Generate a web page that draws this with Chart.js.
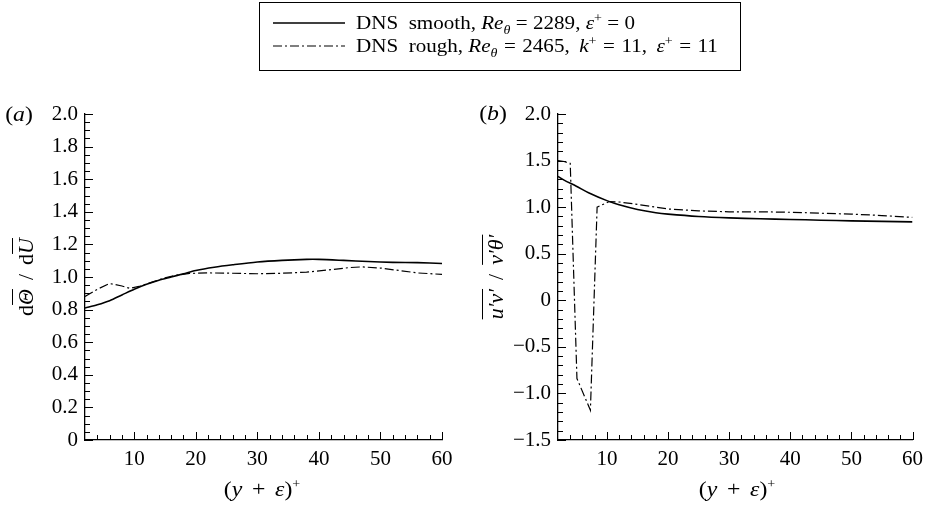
<!DOCTYPE html>
<html>
<head>
<meta charset="utf-8">
<script src="https://cdn.jsdelivr.net/npm/chart.js@4.4.1/dist/chart.umd.min.js"></script>
<style>
  body { margin: 0; background: #fff; font-family: 'Liberation Serif', serif; color: #000; }
  #page { position: relative; width: 930px; height: 506px; overflow: hidden; }
  canvas { position: absolute; top: 0; }
  .lbl { position: absolute; font-size: 22px; white-space: nowrap; line-height: 1; }
  .rot { transform: translate(-50%, -50%) rotate(-90deg); }
  .ctr { transform: translate(-50%, -50%) scaleX(1.08); }
  i { font-style: italic; }
  .ov { text-decoration: overline; text-decoration-thickness: 1px; }
  .sp { display: inline-block; width: 9px; }
  .sm { font-size: 13px; position: relative; }
  #legend { position: absolute; left: 259px; top: 2px; width: 480px; height: 67px; border: 1.3px solid #000; font-size: 19.5px; }
  .row { position: absolute; left: 13px; height: 24px; display: flex; align-items: center; white-space: nowrap; line-height: 1; }
  .row svg { margin-right: 11px; }
  .txt { display: inline-block; transform: scaleX(1.08); transform-origin: left center; }
  .eq { margin: 0 5px; }
  .r2 .eq { margin: 0 6px; }
  .cm { margin-right: 4px; }
</style>
</head>
<body>
<div id="page">
  <canvas id="chartA" width="465" height="506" style="left:0"></canvas>
  <canvas id="chartB" width="465" height="506" style="left:465px"></canvas>

  <div id="legend">
    <div class="row" style="top:8px">
      <svg width="72" height="4"><line x1="0" y1="2" x2="72" y2="2" stroke="#000" stroke-width="1.6"/></svg>
      <span class="txt">DNS&nbsp;&nbsp;smooth, <i>Re</i><i class="sm" style="top:5px">θ</i><span class="eq">=</span>2289, <i>ε</i><span class="sm" style="top:-7px">+</span><span class="eq">=</span>0</span>
    </div>
    <div class="row r2" style="top:31px">
      <svg width="72" height="4"><line x1="0" y1="2" x2="72" y2="2" stroke="#000" stroke-width="1.2" stroke-dasharray="9 3 2 3"/></svg>
      <span class="txt">DNS&nbsp;&nbsp;rough, <i>Re</i><i class="sm" style="top:5px">θ</i><span class="eq">=</span>2465,<span class="cm"></span> <i>k</i><span class="sm" style="top:-7px">+</span><span class="eq">=</span>11,<span class="cm"></span> <i>ε</i><span class="sm" style="top:-7px">+</span><span class="eq">=</span>11</span>
    </div>
  </div>

  <div class="lbl ctr" style="left:19px; top:114px">(<i>a</i>)</div>
  <div class="lbl ctr" style="left:493px; top:113px">(<i>b</i>)</div>

  <div class="lbl rot" style="left:26px; top:277px">d<i class="ov">Θ</i><span class="sp"></span>/<span class="sp"></span>d<i class="ov">U</i></div>
  <div class="lbl rot" style="left:496px; top:277px"><i class="ov">u′v′</i><span class="sp"></span>/<span class="sp"></span><i class="ov">v′θ′</i></div>

  <div class="lbl ctr" style="left:262px; top:489px">(<i>y</i><span class="sp"></span>+<span class="sp"></span><i>ε</i>)<span class="sm" style="top:-8px">+</span></div>
  <div class="lbl ctr" style="left:737px; top:489px">(<i>y</i><span class="sp"></span>+<span class="sp"></span><i>ε</i>)<span class="sm" style="top:-8px">+</span></div>
</div>

<script>
// panel (a): dTheta/dU
const xSmoothA = [2, 4, 6, 8, 10, 12, 14, 16, 18, 20, 23, 26, 30, 34, 38, 40, 44, 48, 52, 56, 60];
const ySmoothA = [0.81, 0.83, 0.855, 0.89, 0.925, 0.955, 0.98, 1.0, 1.02, 1.04, 1.06, 1.075, 1.092, 1.102, 1.108, 1.108, 1.102, 1.095, 1.09, 1.088, 1.083];
const xRoughA = [2, 4, 6, 8, 9.3, 11, 13, 15, 17, 19, 22, 26, 30, 34, 38, 42, 45, 47, 50, 53, 56, 60];
const yRoughA = [0.88, 0.925, 0.96, 0.945, 0.93, 0.945, 0.97, 0.995, 1.012, 1.022, 1.025, 1.023, 1.02, 1.023, 1.03, 1.045, 1.058, 1.062, 1.055, 1.04, 1.025, 1.016];

// panel (b): u'v' / v'theta'
const xSmoothB = [2, 3, 5, 7, 10, 12, 15, 18, 20, 25, 30, 35, 40, 45, 50, 55, 60];
const ySmoothB = [1.33, 1.29, 1.225, 1.155, 1.07, 1.025, 0.975, 0.94, 0.925, 0.9, 0.885, 0.875, 0.868, 0.86, 0.853, 0.847, 0.842];
const xRoughB = [2, 3, 4, 5.1, 7.3, 8.4, 10.4, 12, 15, 20, 25, 30, 35, 40, 45, 50, 55, 60];
const yRoughB = [1.5, 1.49, 1.47, -0.84, -1.18, 1.0, 1.06, 1.055, 1.03, 0.98, 0.96, 0.95, 0.95, 0.945, 0.935, 0.925, 0.91, 0.89];

const xTicks = [10, 20, 30, 40, 50, 60];
const yTicksA = [0, 0.2, 0.4, 0.6, 0.8, 1.0, 1.2, 1.4, 1.6, 1.8, 2.0];
const yLabelsA = ['0', '0.2', '0.4', '0.6', '0.8', '1.0', '1.2', '1.4', '1.6', '1.8', '2.0'];
const yTicksB = [-1.5, -1.0, -0.5, 0, 0.5, 1.0, 1.5, 2.0];
const yLabelsB = ['\u22121.5', '\u22121.0', '\u22120.5', '0', '0.5', '1.0', '1.5', '2.0'];

const pts = (xs, ys) => xs.map((x, i) => ({ x: x, y: ys[i] }));

// inward ticks, major and minor
const innerTicks = {
  id: 'innerTicks',
  afterDraw(chart, args, opts) {
    const ctx = chart.ctx;
    const xs = chart.scales.x, ys = chart.scales.y;
    const a = chart.chartArea;
    ctx.save();
    ctx.strokeStyle = '#000';
    ctx.lineWidth = 1;
    ctx.beginPath();
    for (let v = xs.min; v <= xs.max + 1e-9; v += opts.xMinor) {
      const px = Math.round(xs.getPixelForValue(v)) + 0.5;
      const len = Math.abs(v % 10) < 1e-6 ? 8 : 5;
      if (px <= a.left + 1) continue;
      ctx.moveTo(px, a.bottom);
      ctx.lineTo(px, a.bottom - len);
    }
    const n = Math.round((ys.max - ys.min) / opts.yMinor);
    for (let i = 0; i <= n; i++) {
      const v = ys.min + i * opts.yMinor;
      const py = Math.round(ys.getPixelForValue(v)) + 0.5;
      const major = Math.abs(Math.round(v / opts.yMajor) * opts.yMajor - v) < 1e-6;
      ctx.moveTo(a.left, py);
      ctx.lineTo(a.left + (major ? 8 : 5), py);
    }
    ctx.stroke();
    ctx.restore();
  }
};

function makeChart(id, smooth, rough, yMin, yMax, yTicks, yLabels, yWidth, rightPad, minor) {
  return new Chart(document.getElementById(id), {
    type: 'line',
    data: {
      datasets: [
        { data: smooth, borderColor: '#000', borderWidth: 1.6, pointRadius: 0, tension: 0.3, fill: false },
        { data: rough, borderColor: '#000', borderWidth: 1.2, borderDash: [9, 3, 2, 3], pointRadius: 0, tension: 0, fill: false }
      ]
    },
    options: {
      responsive: false,
      animation: false,
      layout: { padding: { left: 0, top: 114, right: rightPad, bottom: 0 } },
      plugins: { legend: { display: false }, tooltip: { enabled: false }, innerTicks: minor },
      scales: {
        x: {
          type: 'linear', min: 2, max: 60,
          grid: { display: false, drawTicks: false },
          border: { display: true, color: '#000', width: 1.3 },
          afterBuildTicks: s => { s.ticks = xTicks.map(v => ({ value: v })); },
          afterFit: s => { s.height = 66; },
          ticks: { color: '#000', padding: 7, font: { family: 'Liberation Serif', size: 21 } }
        },
        y: {
          type: 'linear', min: yMin, max: yMax,
          grid: { display: false, drawTicks: false },
          border: { display: true, color: '#000', width: 1.3 },
          afterBuildTicks: s => { s.ticks = yTicks.map(v => ({ value: v })); },
          afterFit: s => { s.width = yWidth; },
          ticks: {
            color: '#000', padding: 7, font: { family: 'Liberation Serif', size: 21 },
            callback: (v, i) => yLabels[i]
          }
        }
      }
    },
    plugins: [innerTicks]
  });
}

makeChart('chartA', pts(xSmoothA, ySmoothA), pts(xRoughA, yRoughA), 0, 2, yTicksA, yLabelsA, 85, 23,
  { xMinor: 2, yMinor: 0.05, yMajor: 0.2 });
makeChart('chartB', pts(xSmoothB, ySmoothB), pts(xRoughB, yRoughB), -1.5, 2, yTicksB, yLabelsB, 93, 15,
  { xMinor: 2, yMinor: 0.1, yMajor: 0.5 });
</script>
</body>
</html>
